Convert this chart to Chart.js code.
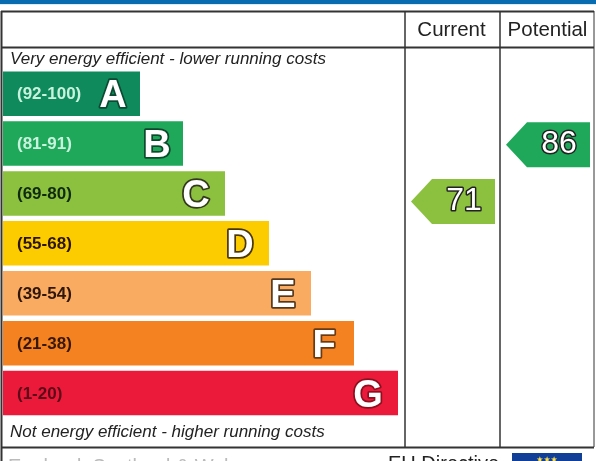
<!DOCTYPE html>
<html>
<head>
<meta charset="UTF-8">
<title>Energy Efficiency Rating</title>
<script src="https://cdn.jsdelivr.net/npm/chart.js"></script>
<style>
  html, body { margin: 0; padding: 0; background: #fff; }
  canvas { display: block; }
</style>
</head>
<body>
<canvas id="epc" width="596" height="461"></canvas>
<script>
var ranges = ['(92-100)', '(81-91)', '(69-80)', '(55-68)', '(39-54)', '(21-38)', '(1-20)'];
var letters = ['A', 'B', 'C', 'D', 'E', 'F', 'G'];
var barLengths = [137, 180, 222, 266, 308, 351, 395];
var columnNames = ['Current', 'Potential'];
var scores = [71, 86];
var columnCentres = [450, 545];

var barColors = ['#0e8a5c', '#1fa85a', '#8cc13f', '#fdcc00', '#f9ab61', '#f58220', '#ec1a3a'];
var rangeColors = ['#c8f2de', '#c8f2de', '#0f2a10', '#2a1600', '#2e1608', '#36180a', '#5a0a18'];
var outlineColors = ['#0b4a33', '#0c4a2c', '#333a1c', '#4a3606', '#54381e', '#6a3a12', '#8c1020'];
var letterOffsets = [-27, -26, -29, -29, -28, -30, -30];
var arrowColors = ['#8cc13f', '#1fa85a'];
var FONT = '"Liberation Sans", Arial, sans-serif';

function line(ctx, x1, y1, x2, y2, w) {
    ctx.beginPath();
    ctx.moveTo(x1, y1);
    ctx.lineTo(x2, y2);
    ctx.lineWidth = w;
    ctx.strokeStyle = '#333';
    ctx.stroke();
}

function outlined(ctx, text, x, y, font, outline, w) {
    ctx.font = font;
    ctx.lineJoin = 'round';
    ctx.lineWidth = w;
    ctx.strokeStyle = outline;
    ctx.strokeText(text, x, y);
    ctx.fillStyle = '#fff';
    ctx.fillText(text, x, y);
}

// header band, frame, captions and everything sitting on top of the bars
var epcDecor = {
    id: 'epcDecor',
    beforeDatasetsDraw: function (chart) {
        var ctx = chart.ctx;
        ctx.save();
        ctx.fillStyle = '#0a6cb0';
        ctx.fillRect(0, 0, 596, 4);
        ctx.fillStyle = '#d8eef8';
        ctx.fillRect(0, 4, 596, 1);

        line(ctx, 1.5, 11, 1.5, 461, 2);
        line(ctx, 1, 11.5, 594, 11.5, 2);
        line(ctx, 1, 47.5, 594, 47.5, 2);
        line(ctx, 1, 447.5, 594, 447.5, 2);
        line(ctx, 405, 11, 405, 447, 1.5);
        line(ctx, 500, 11, 500, 447, 1.5);
        line(ctx, 594, 11, 594, 447, 1);

        ctx.fillStyle = '#222';
        ctx.textBaseline = 'alphabetic';
        ctx.textAlign = 'center';
        ctx.font = '20.5px ' + FONT;
        ctx.fillText(columnNames[0], 451.5, 36);
        ctx.fillText(columnNames[1], 547.5, 36);

        ctx.textAlign = 'left';
        ctx.font = 'italic 17px ' + FONT;
        ctx.fillText('Very energy efficient - lower running costs', 10, 64);
        ctx.fillText('Not energy efficient - higher running costs', 10, 437);

        ctx.font = '20px ' + FONT;
        ctx.fillText('EU Directive', 388, 470);
        ctx.fillStyle = '#bbb';
        ctx.fillText('England, Scotland & Wales', 8, 473);

        ctx.fillStyle = '#0f3f97';
        ctx.fillRect(512, 453, 70, 8);
        ctx.fillStyle = '#ffe14d';
        ctx.font = '8px "DejaVu Sans"';
        ctx.textAlign = 'center';
        ctx.fillText('★★★', 547, 462);
        ctx.restore();
    },
    afterDatasetsDraw: function (chart) {
        var ctx = chart.ctx;
        var bars = chart.getDatasetMeta(0).data;
        var points = chart.getDatasetMeta(1).data;
        ctx.save();
        ctx.textBaseline = 'middle';

        bars.forEach(function (bar, i) {
            ctx.textAlign = 'left';
            ctx.font = 'bold 17px ' + FONT;
            ctx.fillStyle = rangeColors[i];
            ctx.fillText(ranges[i], 17, bar.y + 1);
            ctx.textAlign = 'center';
            outlined(ctx, letters[i], bar.x + letterOffsets[i], bar.y + 3, 'bold 38px ' + FONT, outlineColors[i], 3.5);
        });

        points.forEach(function (pt, i) {
            ctx.beginPath();
            ctx.moveTo(pt.x - 42, pt.y);
            ctx.lineTo(pt.x - 21, pt.y - 22.5);
            ctx.lineTo(pt.x + 42, pt.y - 22.5);
            ctx.lineTo(pt.x + 42, pt.y + 22.5);
            ctx.lineTo(pt.x - 21, pt.y + 22.5);
            ctx.closePath();
            ctx.fillStyle = arrowColors[i];
            ctx.fill();
            ctx.textAlign = 'center';
            outlined(ctx, String(scores[i]), pt.x + 11, pt.y, '32px ' + FONT, '#222', 3);
        });
        ctx.restore();
    }
};

new Chart(document.getElementById('epc').getContext('2d'), {
    type: 'bar',
    plugins: [epcDecor],
    data: {
        labels: ranges,
        datasets: [
            {
                type: 'bar',
                data: barLengths,
                backgroundColor: barColors,
                grouped: false,
                categoryPercentage: 1,
                barPercentage: 0.892,
                borderWidth: 0,
                xAxisID: 'x',
                yAxisID: 'y'
            },
            {
                type: 'scatter',
                indexAxis: 'x',
                data: scores.map(function (s, i) { return { x: columnCentres[i], y: s }; }),
                pointRadius: 0,
                xAxisID: 'x',
                yAxisID: 'score'
            }
        ]
    },
    options: {
        indexAxis: 'y',
        responsive: false,
        animation: false,
        layout: { padding: { left: 3, right: 0, top: 68.7, bottom: 43 } },
        plugins: { legend: { display: false }, tooltip: { enabled: false } },
        scales: {
            x: { type: 'linear', min: 0, max: 593, offset: false, display: false },
            y: { type: 'category', offset: true, display: false },
            score: { type: 'linear', min: 14, max: 106, offset: false, display: false }
        }
    }
});
</script>
</body>
</html>
